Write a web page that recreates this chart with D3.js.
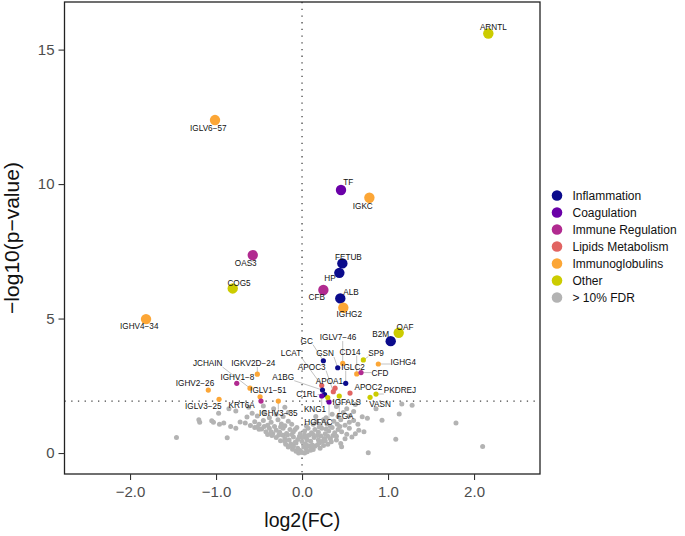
<!DOCTYPE html>
<html>
<head>
<meta charset="utf-8">
<script src="https://d3js.org/d3.v7.min.js"></script>
<style>
  body { margin: 0; background: #fff; }
  svg text { font-family: "Liberation Sans", Arial, Helvetica, sans-serif; }
</style>
</head>
<body>
<svg width="685" height="536"></svg>
<script>
// legend groups and colours
var categories = ["Inflammation", "Coagulation", "Immune Regulation", "Lipids Metabolism", "Immunoglobulins", "Other", "> 10% FDR"];
var catColors = ["#0b0b8c", "#6a00a8", "#b12a90", "#e16462", "#fca636", "#cccc00", "#b3b3b3"];

// proteins passing 10% FDR
var genes = ["ARNTL","IGLV6-57","TF","IGKC","OAS3","FETUB","HP","COG5","CFB","ALB","IGHG2","OAF","B2M","IGHV4-34",
  "IGKV2D-24","IGHV1-8","JCHAIN","IGLV1-51","KRT6A","IGHV3-35","IGHV2-26","IGLV3-25",
  "GC","GSN","IGLV7-46","SP9","IGHG4","CD14","CFD","IGLC2","LCAT","APOC3","APOA1","A1BG","C1RL","KNG1","HGFAC","IGFALS","FGA","APOC2","PKDREJ","VASN"];
var log2fc = [2.166,-1.012,0.453,0.783,-0.573,0.469,0.434,-0.806,0.248,0.445,0.480,1.124,1.031,-1.814,
  -0.520,-0.759,-0.605,-0.488,-0.477,-0.276,-1.090,-0.965,
  0.248,0.415,0.473,0.713,0.887,0.636,0.686,0.508,0.229,0.364,0.384,0.238,0.262,0.229,0.314,0.299,0.433,0.558,0.860,0.791];
var logp = [15.60,12.38,9.78,9.49,7.36,7.05,6.70,6.12,6.06,5.75,5.40,4.47,4.16,4.98,
  2.93,2.59,2.41,2.09,1.93,1.93,2.34,2.00,
  3.43,3.17,3.33,3.46,3.31,2.94,2.99,2.59,2.51,2.28,2.41,2.34,2.17,2.12,1.90,2.06,2.12,2.23,2.19,2.07];
var group = ["Other","Immunoglobulins","Coagulation","Immunoglobulins","Immune Regulation","Inflammation","Inflammation","Other","Immune Regulation","Inflammation","Immunoglobulins","Other","Inflammation","Immunoglobulins",
  "Immunoglobulins","Immune Regulation","Immunoglobulins","Immunoglobulins","Immune Regulation","Immunoglobulins","Immunoglobulins","Immunoglobulins",
  "Inflammation","Inflammation","Immunoglobulins","Other","Immunoglobulins","Immunoglobulins","Immune Regulation","Inflammation","Lipids Metabolism","Lipids Metabolism","Lipids Metabolism","Inflammation","Inflammation","Coagulation","Coagulation","Other","Other","Lipids Metabolism","Other","Other"];

// proteins not passing 10% FDR: [log2FC, -log10 p]
var grayPoints = [
  [-0.04,0.0],[0.0,0.02],[0.03,0.0],[-0.07,0.07],[0.06,0.05],[0.1,0.1],[-0.11,0.14],[0.13,0.13],[-0.02,0.09],[0.05,0.15],
  [0.77,0.01],[2.1,0.24],[1.79,1.12],[-1.46,0.58],[-0.87,0.57],[1.09,0.51],
  [-0.16,0.22],[-0.1,0.25],[-0.05,0.18],[0.02,0.22],[0.07,0.27],[0.11,0.2],[0.15,0.25],[0.18,0.31],[0.21,0.18],[-0.13,0.34],
  [-0.19,0.33],[0.2,0.37],[0.04,0.34],[-0.07,0.37],[0.12,0.3],[-0.14,0.26],[0.25,0.28],[0.3,0.33],
  [-0.3,0.58],[-0.25,0.46],[-0.2,0.53],[-0.15,0.48],[-0.1,0.6],[-0.05,0.5],[0.0,0.43],[0.05,0.56],[0.1,0.44],[0.14,0.58],
  [0.19,0.48],[0.23,0.43],[0.26,0.54],[0.3,0.62],[0.22,0.63],[-0.35,0.65],[-0.22,0.66],[0.08,0.66],[0.5,0.53],[0.58,0.6],
  [0.34,0.42],[0.4,0.48],[0.45,0.35],[0.46,0.23],[-0.27,0.67],[-0.17,0.67],[-0.12,0.69],[-0.03,0.62],[0.03,0.67],[0.13,0.69],
  [0.18,0.65],[0.27,0.46],[0.33,0.53],[0.36,0.65],[-0.4,0.69],[-0.08,0.4],[-0.2,0.43],[0.06,0.48],[0.0,0.58],[0.4,0.62],
  [-0.55,0.95],[-0.5,0.88],[-0.47,0.89],[-0.42,0.79],[-0.38,0.92],[-0.34,0.72],[-0.3,0.85],[-0.26,0.77],[-0.22,0.92],[-0.18,0.73],
  [-0.14,0.87],[-0.1,0.79],[-0.06,0.95],[-0.02,0.72],[0.03,0.82],[0.07,0.92],[0.11,0.75],[0.15,0.87],[0.19,0.77],[0.23,0.92],
  [0.27,0.72],[0.31,0.82],[0.35,0.95],[0.38,0.75],[0.42,0.87],[0.46,0.79],[-0.77,0.92],[0.72,0.79],[0.55,0.92],[0.62,0.72],
  [0.66,0.85],[0.52,0.7],[-0.36,0.79],[0.44,0.99],[-0.52,0.97],[-0.44,0.99],[0.28,0.89],[0.2,0.97],[-0.25,0.97],[-0.08,0.87],
  [-0.72,1.15],[-0.66,1.12],[-0.6,1.02],[-0.55,1.16],[-0.5,1.07],[-0.45,1.21],[-0.4,1.03],[-0.36,1.14],[-0.32,0.99],[-0.28,1.24],
  [-0.24,1.08],[-0.2,1.01],[-0.16,1.18],[-0.12,1.07],[0.05,1.01],[0.13,1.07],[0.17,1.16],[0.21,1.02],[0.25,1.24],[0.29,1.08],
  [0.33,0.99],[0.37,1.18],[0.41,1.07],[0.45,1.24],[0.5,1.03],[0.55,1.14],[0.6,1.21],[0.65,1.07],[-0.96,1.07],[-0.91,1.12],
  [-1.03,1.14],[-1.19,1.14],[-0.83,0.99],[0.93,1.22],
  [-0.97,1.48],[-0.77,1.56],[-0.58,1.48],[-0.64,1.34],[-0.52,1.38],[-0.44,1.51],[-0.38,1.31],[-0.3,1.44],[-0.22,1.36],[-0.16,1.51],
  [0.16,1.36],[0.28,1.31],[0.35,1.44],[0.42,1.36],[0.48,1.51],[0.55,1.38],[0.7,1.35],[0.76,1.29],[1.13,1.45],[0.6,1.54],
  [-0.33,1.65],[-0.45,1.75],[-0.2,1.7],[0.4,1.73],[0.52,1.65],[0.62,1.8],[0.86,1.65],[1.28,1.78],[1.16,1.82],[-0.62,1.7],
  [-0.85,1.65],[-1.2,1.24],[-1.05,1.2]
];

var xTicks = [-2, -1, 0, 1, 2];
var yTicks = [0, 5, 10, 15];
var fdrLine = 1.93;

// where ggrepel put each label, relative to its point (px)
var labelNudge = {
  "ARNTL":[5,-6.6], "IGLV6-57":[-6.7,8.3], "TF":[7.3,-8.3], "IGKC":[-6.6,8.3], "OAS3":[-7,7.7],
  "FETUB":[6,-6.6], "HP":[-9.3,5.6], "COG5":[6.3,-5.6], "CFB":[-6.6,7.3], "ALB":[10.7,-6.6],
  "IGHG2":[6,6.3], "OAF":[6.3,-6], "B2M":[-10,-7], "IGHV4-34":[-6.8,7],
  "IGKV2D-24":[-4,-11], "IGHV1-8":[0.6,-6.5], "JCHAIN":[-42.3,-25], "IGLV1-51":[8.3,-6.7],
  "KRT6A":[-19.3,4], "IGHV3-35":[0,11.7], "IGHV2-26":[-13.3,-6.7], "IGLV3-25":[-15.7,6.7],
  "GC":[-16.6,-20], "GSN":[-12.7,-14.7], "IGLV7-46":[-4.7,-26.3], "SP9":[12.7,-7.3], "IGHG4":[25,-2.3],
  "CD14":[-6.7,-22.3], "CFD":[19,0.6], "IGLC2":[7.3,-16.6], "LCAT":[-30.7,-32.2], "APOC3":[-21.6,-25],
  "APOA1":[-5.7,-7.3], "A1BG":[-39.2,-13.3], "C1RL":[-17.8,-0.5], "KNG1":[-6.7,13.3], "HGFAC":[-10.7,20.7],
  "IGFALS":[19,4.2], "FGA":[5.8,19.7], "APOC2":[18.3,-6.3], "PKDREJ":[24,-4], "VASN":[10,7]
};

var svg = d3.select("svg");
var panel = {left: 64.5, right: 540, top: 2, bottom: 474};

var x = d3.scaleLinear().domain([-2.762, 2.767]).range([panel.left, panel.right]);
var y = d3.scaleLinear().domain([-0.78, 16.77]).range([panel.bottom, panel.top]);
var color = d3.scaleOrdinal().domain(categories).range(catColors);
var radius = d3.scaleThreshold().domain([3.8]).range([2.6, 5.2]);

var sig = genes.map(function(g, i) {
  return {gene: g, fc: log2fc[i], p: logp[i], group: group[i]};
});

// dotted guides
svg.append("line")
  .attr("x1", x(0)).attr("x2", x(0))
  .attr("y1", panel.top).attr("y2", panel.bottom)
  .attr("stroke", "#444").attr("stroke-width", 1.3)
  .attr("stroke-dasharray", "1.3,5.4");
svg.append("line")
  .attr("x1", panel.left).attr("x2", panel.right)
  .attr("y1", y(fdrLine)).attr("y2", y(fdrLine))
  .attr("stroke", "#444").attr("stroke-width", 1.3)
  .attr("stroke-dasharray", "1.3,5.4");

// grey points
svg.append("g").selectAll("circle")
  .data(grayPoints)
  .join("circle")
  .attr("cx", function(d) { return x(d[0]); })
  .attr("cy", function(d) { return y(d[1]); })
  .attr("r", 2.5)
  .attr("fill", color("> 10% FDR"));

var leaders = svg.append("g");

svg.append("g").selectAll("circle")
  .data(sig)
  .join("circle")
  .attr("cx", function(d) { return x(d.fc); })
  .attr("cy", function(d) { return y(d.p); })
  .attr("r", function(d) { return radius(d.p); })
  .attr("fill", function(d) { return color(d.group); });

var labels = svg.append("g").selectAll("text")
  .data(sig)
  .join("text")
  .attr("x", function(d) { return x(d.fc) + labelNudge[d.gene][0]; })
  .attr("y", function(d) { return y(d.p) + labelNudge[d.gene][1]; })
  .attr("dy", "0.35em")
  .attr("text-anchor", "middle")
  .attr("font-size", 8.2)
  .attr("fill", "#111")
  .text(function(d) { return d.gene.replace(/-/g, "\u2212"); });

// segments from point to label box, only when the label sits away from it
labels.each(function(d) {
  var b = this.getBBox();
  var px = x(d.fc), py = y(d.p);
  var nx = Math.max(b.x, Math.min(px, b.x + b.width));
  var ny = Math.max(b.y + 1, Math.min(py, b.y + b.height - 1));
  var dist = Math.hypot(nx - px, ny - py);
  if (dist > 6) {
    leaders.append("line")
      .attr("x1", px).attr("y1", py)
      .attr("x2", nx).attr("y2", ny)
      .attr("stroke", "#9a9a9a").attr("stroke-width", 0.6);
  }
});

// panel border
svg.append("rect")
  .attr("x", panel.left).attr("y", panel.top)
  .attr("width", panel.right - panel.left)
  .attr("height", panel.bottom - panel.top)
  .attr("fill", "none").attr("stroke", "#222").attr("stroke-width", 1.3);

// axes
var xAxis = svg.append("g")
  .attr("transform", "translate(0," + panel.bottom + ")")
  .call(d3.axisBottom(x).tickValues(xTicks).tickSize(6).tickPadding(6));
var yAxis = svg.append("g")
  .attr("transform", "translate(" + panel.left + ",0)")
  .call(d3.axisLeft(y).tickValues(yTicks).tickSize(6).tickPadding(4));
[xAxis, yAxis].forEach(function(a) {
  a.select(".domain").remove();
  a.selectAll(".tick line").attr("stroke", "#333").attr("stroke-width", 1.1);
  a.selectAll(".tick text").attr("fill", "#4d4d4d").attr("font-size", 15);
});

svg.append("text")
  .attr("x", (panel.left + panel.right) / 2)
  .attr("y", 527)
  .attr("text-anchor", "middle")
  .attr("font-size", 19.5)
  .attr("fill", "#111")
  .text("log2(FC)");

svg.append("text")
  .attr("transform", "translate(19," + (panel.top + panel.bottom) / 2 + ") rotate(-90)")
  .attr("text-anchor", "middle")
  .attr("font-size", 21)
  .attr("fill", "#111")
  .text("\u2212log10(p\u2212value)");

// legend
var legend = svg.append("g").selectAll("g")
  .data(categories)
  .join("g")
  .attr("transform", function(d, i) { return "translate(557," + (195.5 + i * 17) + ")"; });
legend.append("circle").attr("r", 5.3).attr("fill", function(d) { return color(d); });
legend.append("text")
  .attr("x", 15.5)
  .attr("dy", "0.35em")
  .attr("font-size", 12)
  .attr("fill", "#111")
  .text(function(d) { return d; });
</script>
</body>
</html>
